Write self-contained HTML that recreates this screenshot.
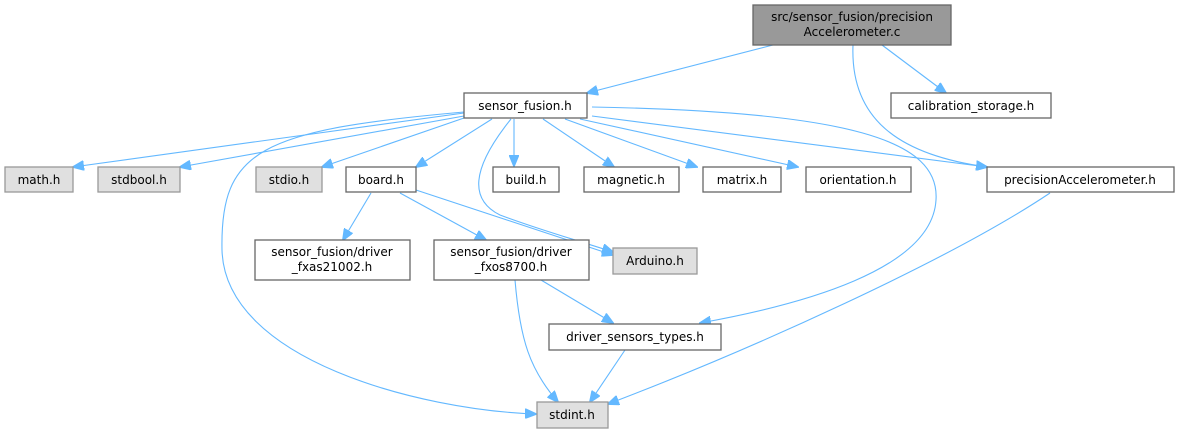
<!DOCTYPE html>
<html><head><meta charset="utf-8"><style>
html,body{margin:0;padding:0;background:#fff;}
svg{display:block;}
text{font-family:"DejaVu Sans","Liberation Sans",sans-serif;font-size:12px;fill:#000;text-anchor:middle;}
.n{fill:#fff;stroke:#666;stroke-width:1.3;}
.g{fill:#e0e0e0;stroke:#999;stroke-width:1.3;}
.e{fill:none;stroke:#63b8ff;stroke-width:1.1;}
.a{fill:#63b8ff;stroke:#63b8ff;}
</style></head><body>
<svg width="1178" height="432" viewBox="0 0 1178 432" xmlns="http://www.w3.org/2000/svg">
<defs><marker id="m" markerWidth="12" markerHeight="10" refX="11" refY="5" orient="auto" markerUnits="userSpaceOnUse"><path d="M0,0 L12,5 L0,10 Z" class="a"/></marker></defs>
<g marker-end="url(#m)">
<path class="e" d="M773,45 L587,93"/>
<path class="e" d="M882,45 L946,93"/>
<path class="e" d="M853,45 C850,120 900,155 987,167"/>
<path class="e" d="M464,113 L73,167"/>
<path class="e" d="M464,116 L180,167"/>
<path class="e" d="M464,118 L322,167"/>
<path class="e" d="M492,119 L416,167"/>
<path class="e" d="M514,119 L514,166"/>
<path class="e" d="M543,119 L614,167"/>
<path class="e" d="M565,119 L697,167"/>
<path class="e" d="M580,119 L798,167"/>
<path class="e" d="M592,116 L987,167"/>
<path class="e" d="M592,107 C850,112 940,140 936,200 C932,270 800,305 700,323"/>
<path class="e" d="M464,112 C260,130 220,150 222,250 C225,360 420,410 536,414"/>
<path class="e" d="M511,119 C470,170 470,200 500,215 C540,230 570,238 613,252"/>
<path class="e" d="M371,193 L343,240"/>
<path class="e" d="M400,193 L486,240"/>
<path class="e" d="M416,190 L613,255"/>
<path class="e" d="M515,280 C520,340 530,370 558,402"/>
<path class="e" d="M541,280 L613,323"/>
<path class="e" d="M625,350 L590,402"/>
<path class="e" d="M1050,193 C950,260 750,350 608,404"/>
</g>
<rect x="753" y="5" width="198" height="40" fill="#999" stroke="#666" stroke-width="1.3"/>
<text x="852" y="21">src/sensor_fusion/precision</text>
<text x="852" y="36">Accelerometer.c</text>
<rect class="n" x="464" y="93" width="123" height="25"/><text x="525" y="110">sensor_fusion.h</text>
<rect class="n" x="891" y="93" width="160" height="25"/><text x="971" y="110">calibration_storage.h</text>
<rect class="g" x="5" y="167" width="68" height="25"/><text x="39" y="184">math.h</text>
<rect class="g" x="98" y="167" width="82" height="25"/><text x="139" y="184">stdbool.h</text>
<rect class="g" x="256" y="167" width="66" height="25"/><text x="289" y="184">stdio.h</text>
<rect class="n" x="346" y="167" width="70" height="25"/><text x="381" y="184">board.h</text>
<rect class="n" x="493" y="167" width="66" height="25"/><text x="526" y="184">build.h</text>
<rect class="n" x="584" y="167" width="95" height="25"/><text x="631" y="184">magnetic.h</text>
<rect class="n" x="703" y="167" width="78" height="25"/><text x="742" y="184">matrix.h</text>
<rect class="n" x="806" y="167" width="105" height="25"/><text x="858" y="184">orientation.h</text>
<rect class="n" x="987" y="167" width="187" height="25"/><text x="1080" y="184">precisionAccelerometer.h</text>
<rect class="n" x="255" y="240" width="155" height="40"/><text x="332" y="256">sensor_fusion/driver</text><text x="332" y="271">_fxas21002.h</text>
<rect class="n" x="434" y="240" width="155" height="40"/><text x="511" y="256">sensor_fusion/driver</text><text x="511" y="271">_fxos8700.h</text>
<rect class="g" x="613" y="248" width="84" height="26"/><text x="655" y="265">Arduino.h</text>
<rect class="n" x="549" y="324" width="172" height="26"/><text x="635" y="341">driver_sensors_types.h</text>
<rect class="g" x="537" y="402" width="71" height="26"/><text x="572" y="419">stdint.h</text>
</svg>
</body></html>
